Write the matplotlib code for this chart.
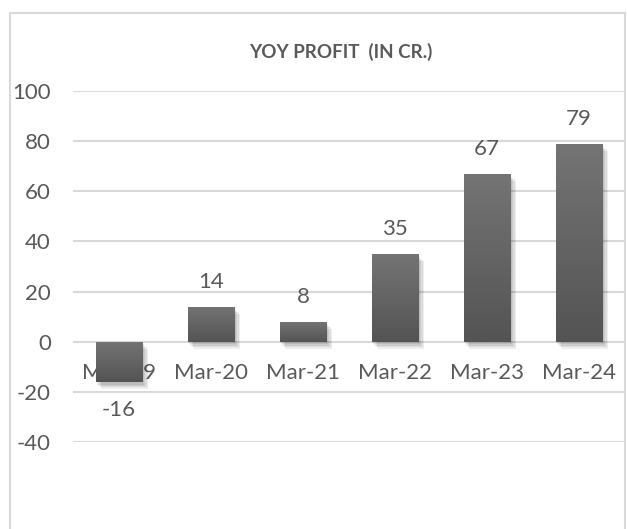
import numpy as np
import matplotlib.pyplot as plt
import matplotlib.patheffects as pe
from matplotlib.patches import Rectangle
from matplotlib.colors import LinearSegmentedColormap

# ── DATA ──────────────────────────────────────────────────────────────────────
periods = ["Mar-19", "Mar-20", "Mar-21", "Mar-22", "Mar-23", "Mar-24"]
profit = [-16, 14, 8, 35, 67, 79]
y_ticks = [-40, -20, 0, 20, 40, 60, 80, 100]
title = "YOY PROFIT  (IN CR.)"
# ─────────────────────────────────────────────────────────────────────────────

TEXT = "#595959"
GRID = "#d9d9d9"
plt.rcParams["font.family"] = ["Lato", "DejaVu Sans"]
plt.rcParams["axes.unicode_minus"] = False

fig = plt.figure(figsize=(6.27, 5.29), dpi=100)
ax = fig.add_axes([73 / 627, 87 / 529, 552 / 627, 351 / 529])

x = np.arange(len(periods))
bars = ax.bar(x, profit, width=0.51, color="#646464", zorder=2)

# soft drop shadow + subtle vertical gradient on each bar
bar_cmap = LinearSegmentedColormap.from_list("bar", ["#545454", "#747474"])
grad = np.linspace(1, 0, 100).reshape(-1, 1)
shadow = [pe.SimplePatchShadow(offset=(o, -o - 1), shadow_rgbFace="black", alpha=0.07)
          for o in (1, 2, 3, 4)]
for b in bars:
    b.set_path_effects(shadow + [pe.Normal()])
    x0, w = b.get_x(), b.get_width()
    y0, h = b.get_y(), b.get_height()
    lo, hi = min(y0, y0 + h), max(y0, y0 + h)
    im = ax.imshow(grad, extent=[x0, x0 + w, lo, hi], origin="upper", cmap=bar_cmap,
                   vmin=0, vmax=1, aspect="auto", zorder=2.1)
    im.set_clip_path(b)

ax.set_xlim(-0.5, len(periods) - 0.5)
ax.set_ylim(-40, 100)
ax.set_yticks(y_ticks)
ax.set_xticks(x)
ax.set_xticklabels(periods)
ax.grid(axis="y", color=GRID, linewidth=1.5)
ax.set_axisbelow(True)
for s in ax.spines.values():
    s.set_visible(False)
ax.spines["bottom"].set_position(("data", 0))
ax.tick_params(axis="both", length=0, labelsize=16, labelcolor=TEXT)
ax.tick_params(axis="y", pad=16)
ax.tick_params(axis="x", pad=15)

for xi, v in zip(x, profit):
    off = 18 if v >= 0 else -20
    ax.annotate(str(v), (xi, v), xytext=(0, off), textcoords="offset points",
                ha="center", va="center", fontsize=16, color=TEXT)

fig.text(341 / 627, 1 - 52 / 529, title, ha="center", va="center",
         fontsize=13.5, fontweight="bold", color=TEXT)

# chart area border
fig.add_artist(Rectangle((10 / 627, -0.01), 615 / 627, 1.01 - 13 / 529,
                         transform=fig.transFigure, fill=False, edgecolor=GRID, linewidth=1.5))

fig.savefig("out.png", dpi=100)
